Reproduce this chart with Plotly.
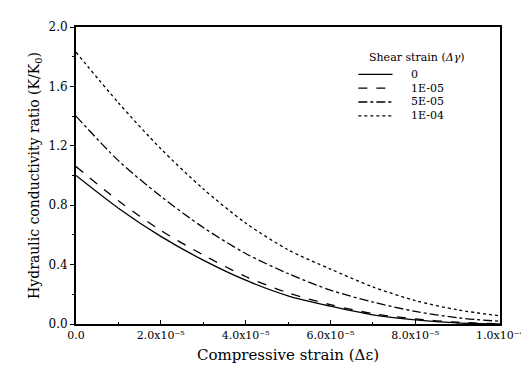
import plotly.graph_objects as go

strain = [0.0, 1e-5, 2e-5, 3e-5, 4e-5, 5e-5, 6e-5, 7e-5, 8e-5, 9e-5, 1e-4]
k_0 = [1.00, 0.78, 0.59, 0.43, 0.295, 0.19, 0.12, 0.062, 0.028, 0.008, 0.0]
k_1e5 = [1.06, 0.83, 0.63, 0.465, 0.32, 0.21, 0.13, 0.07, 0.034, 0.012, 0.002]
k_5e5 = [1.40, 1.10, 0.86, 0.65, 0.475, 0.34, 0.228, 0.148, 0.085, 0.042, 0.018]
k_1e4 = [1.83, 1.49, 1.18, 0.91, 0.68, 0.50, 0.37, 0.25, 0.158, 0.095, 0.055]

series_names = ["0", "1E-05", "5E-05", "1E-04"]
series_vals = [k_0, k_1e5, k_5e5, k_1e4]
dashes = ["solid", "dash", "dashdot", "dot"]
legend_title = "Shear strain (<i>Δγ</i>)"

x_tickvals = [0.0, 2e-5, 4e-5, 6e-5, 8e-5, 1e-4]
x_ticktext = ["0.0", "2.0x10⁻⁵", "4.0x10⁻⁵", "6.0x10⁻⁵", "8.0x10⁻⁵", "1.0x10⁻⁴"]
y_tickvals = [0.0, 0.4, 0.8, 1.2, 1.6, 2.0]
y_ticktext = ["0.0", "0.4", "0.8", "1.2", "1.6", "2.0"]

W, H = 529, 375
ML, MR, MT, MB = 68, 27, 15, 59
PW, PH = W - ML - MR, H - MT - MB


def px_x(px):
    return (px - ML) / PW


def px_y(py):
    return (H - MB - py) / PH


font_family = "DejaVu Serif"

fig = go.Figure()
for name, vals, d in zip(series_names, series_vals, dashes):
    fig.add_trace(go.Scatter(
        x=strain, y=vals, name=name, mode="lines", showlegend=False,
        line=dict(color="black", width=1.3, dash=d, shape="spline", smoothing=0.8),
    ))

shapes = []
annotations = [dict(
    text=legend_title, xref="paper", yref="paper", x=px_x(366), y=px_y(46),
    xanchor="left", yanchor="middle", showarrow=False,
    font=dict(family=font_family, size=11, color="black"),
)]
for i, (name, d) in enumerate(zip(series_names, dashes)):
    yy = 63 + 14 * i
    shapes.append(dict(
        type="line", xref="paper", yref="paper",
        x0=px_x(357), x1=px_x(392), y0=px_y(yy), y1=px_y(yy),
        line=dict(color="black", width=1.3, dash=d),
    ))
    annotations.append(dict(
        text=name, xref="paper", yref="paper", x=px_x(409), y=px_y(yy),
        xanchor="left", yanchor="middle", showarrow=False,
        font=dict(family=font_family, size=11, color="black"),
    ))

fig.update_layout(
    width=W, height=H,
    margin=dict(l=ML, r=MR, t=MT, b=MB),
    paper_bgcolor="white", plot_bgcolor="white",
    font=dict(family=font_family, color="black", size=12),
    showlegend=False,
    shapes=shapes,
    annotations=annotations,
    xaxis=dict(
        range=[0, 1e-4], tickvals=x_tickvals, ticktext=x_ticktext,
        showline=True, linecolor="black", linewidth=2, mirror=True,
        ticks="inside", ticklen=4, tickwidth=1, tickcolor="black",
        minor=dict(ticks="inside", ticklen=2, dtick=1e-5, tickcolor="black"),
        showgrid=False, zeroline=False, ticklabeloverflow="allow",
        title=dict(text="Compressive strain (Δε)", font=dict(family=font_family, size=15), standoff=8),
        tickfont=dict(family=font_family, size=11),
    ),
    yaxis=dict(
        range=[0, 2.0], tickvals=y_tickvals, ticktext=y_ticktext,
        showline=True, linecolor="black", linewidth=2, mirror=True,
        ticks="outside", ticklen=4, tickwidth=1, tickcolor="black",
        minor=dict(ticks="outside", ticklen=2, dtick=0.2, tickcolor="black"),
        showgrid=False, zeroline=False,
        title=dict(text="Hydraulic conductivity ratio (K/K<sub>0</sub>)", font=dict(family=font_family, size=14), standoff=6),
        tickfont=dict(family=font_family, size=12),
    ),
)

fig.write_html("out.html")
